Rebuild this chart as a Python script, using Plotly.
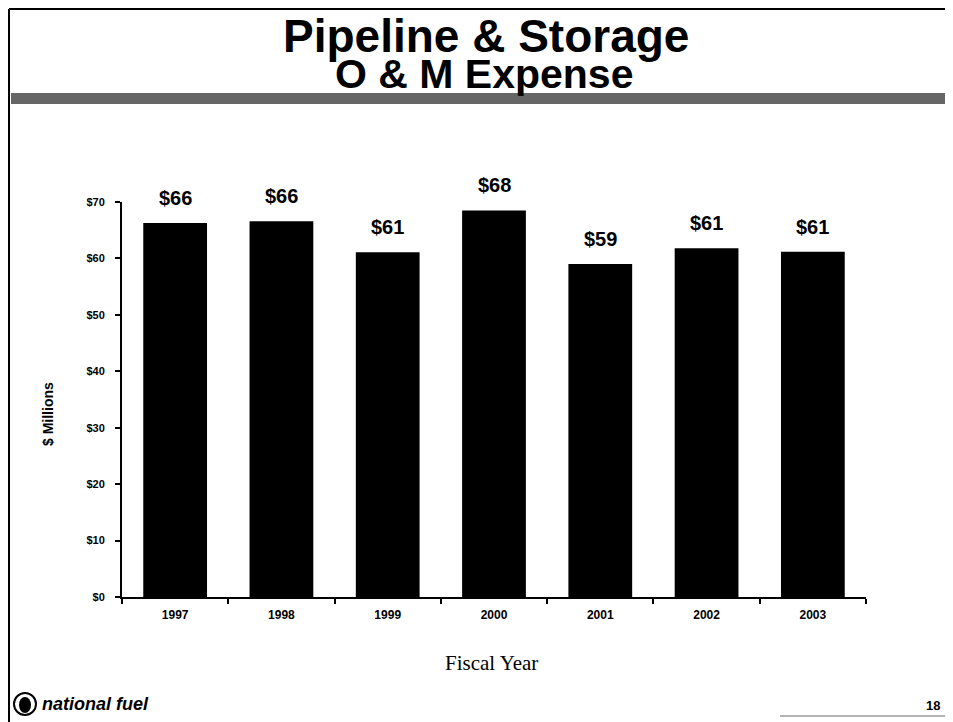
import plotly.graph_objects as go

years = ["1997", "1998", "1999", "2000", "2001", "2002", "2003"]
values = [66.3, 66.6, 61.1, 68.5, 59.0, 61.8, 61.2]
labels = ["$66", "$66", "$61", "$68", "$59", "$61", "$61"]
y_ticks = [0, 10, 20, 30, 40, 50, 60, 70]
y_ticktext = ["$0", "$10", "$20", "$30", "$40", "$50", "$60", "$70"]

# The page body adds an 8px offset, so the figure is 8px smaller than the window
OFF = 8
W, H = 953 - OFF, 722 - OFF
# plot area in reference (window) pixels
L, R, T, B = 122, 866, 202, 597


def fx(px):
    return (px - L) / (R - L)


def fy(py):
    return (B - py) / (B - T)


SANS = "Liberation Sans, Arial, sans-serif"
SERIF = "Liberation Serif, Times New Roman, serif"

fig = go.Figure()
fig.add_trace(go.Bar(
    x=years, y=values, width=0.6,
    marker=dict(color="black", line=dict(width=0)),
    hoverinfo="skip",
))

annotations = []
for i, (v, lab) in enumerate(zip(values, labels)):
    annotations.append(dict(
        x=i, y=v, xref="x", yref="y", text=lab, showarrow=False,
        yanchor="middle", yshift=25,
        font=dict(family=SANS, size=20, color="black", weight="bold"),
    ))

annotations += [
    dict(x=fx(486), y=fy(36), xref="paper", yref="paper", text="Pipeline & Storage",
         showarrow=False, xanchor="center", yanchor="middle",
         font=dict(family=SANS, size=46, color="black", weight="bold")),
    dict(x=fx(484), y=fy(74), xref="paper", yref="paper", text="O & M Expense",
         showarrow=False, xanchor="center", yanchor="middle",
         font=dict(family=SANS, size=41, color="black", weight="bold")),
    dict(x=fx(48), y=fy(414), xref="paper", yref="paper", text="$ Millions",
         showarrow=False, textangle=-90, xanchor="center", yanchor="middle",
         font=dict(family=SANS, size=14, color="black", weight="bold")),
    dict(x=fx(491), y=fy(663), xref="paper", yref="paper", text="Fiscal Year",
         showarrow=False, xanchor="center", yanchor="middle",
         font=dict(family=SERIF, size=21, color="black")),
    dict(x=fx(40), y=fy(704), xref="paper", yref="paper", text="national fuel",
         showarrow=False, xanchor="left", yanchor="middle",
         font=dict(family=SANS, size=18, color="black", weight="bold", style="italic")),
    dict(x=fx(933), y=fy(705), xref="paper", yref="paper", text="18",
         showarrow=False, xanchor="center", yanchor="middle",
         font=dict(family=SANS, size=13, color="black", weight="bold")),
]

shapes = [
    # frame lines
    dict(type="line", xref="paper", yref="paper", x0=fx(9), x1=fx(9), y0=fy(9), y1=fy(722),
         line=dict(color="black", width=2)),
    dict(type="line", xref="paper", yref="paper", x0=fx(9), x1=fx(953), y0=fy(9), y1=fy(9),
         line=dict(color="black", width=2)),
    # textured band under the title
    dict(type="rect", xref="paper", yref="paper", x0=fx(11), x1=fx(953), y0=fy(93), y1=fy(104),
         fillcolor="#666666", line=dict(width=0)),
    # footer rule
    dict(type="line", xref="paper", yref="paper", x0=fx(780), x1=fx(953), y0=fy(716), y1=fy(716),
         line=dict(color="#9a9a9a", width=1.5)),
    # logo circle
    dict(type="circle", xref="paper", yref="paper", x0=fx(14), x1=fx(36), y0=fy(693), y1=fy(715),
         line=dict(color="black", width=2), fillcolor="white"),
    dict(type="circle", xref="paper", yref="paper", x0=fx(19), x1=fx(31), y0=fy(697), y1=fy(713),
         line=dict(color="black", width=0), fillcolor="black"),
]

fig.update_layout(
    width=W, height=H,
    margin=dict(l=L - OFF, r=W - (R - OFF), t=T - OFF, b=H - (B - OFF), pad=0),
    paper_bgcolor="white", plot_bgcolor="white",
    showlegend=False, bargap=0.4,
    annotations=annotations, shapes=shapes,
    xaxis=dict(
        type="category", range=[-0.5, 6.5], tickangle=0,
        showline=True, linecolor="black", linewidth=2,
        ticks="outside", tickson="boundaries", ticklen=5, tickcolor="black", tickwidth=1.5,
        showgrid=False, zeroline=False,
        tickfont=dict(family=SANS, size=12, color="black", weight="bold"),
        ticklabelstandoff=6,
    ),
    yaxis=dict(
        range=[0, 70], tickvals=y_ticks, ticktext=y_ticktext,
        showline=True, linecolor="black", linewidth=2,
        ticks="outside", ticklen=5, tickcolor="black", tickwidth=1.5,
        showgrid=False, zeroline=False,
        tickfont=dict(family=SANS, size=11, color="black", weight="bold"),
        ticklabelstandoff=8,
    ),
)

fig.write_html("out.html")
